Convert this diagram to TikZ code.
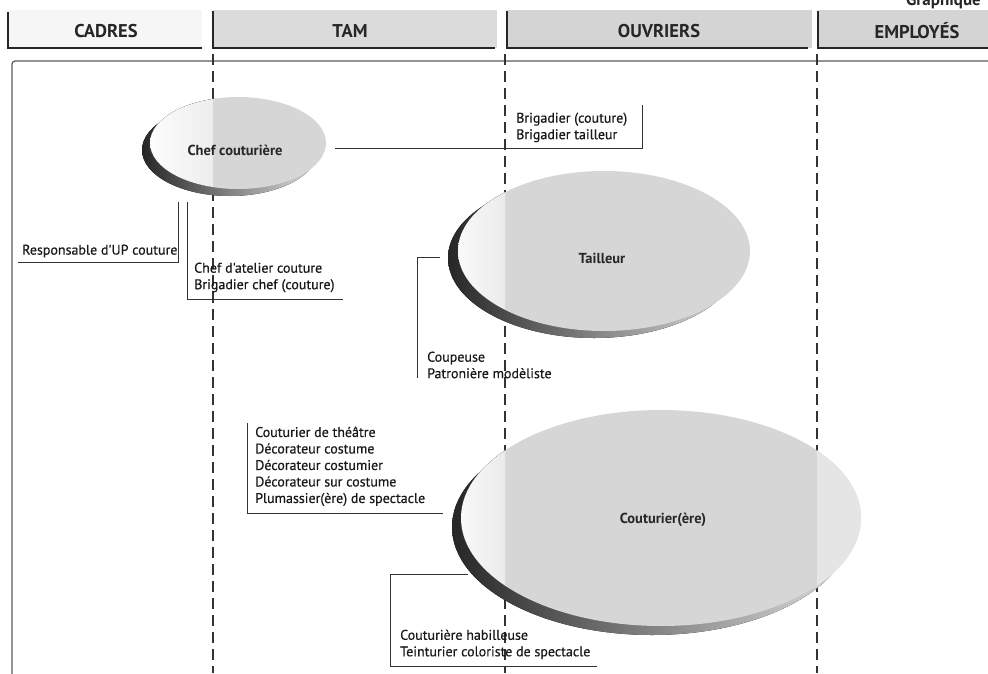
\documentclass[tikz,border=0pt]{standalone}
\usepackage{fontspec}
\setmainfont{PT Sans}
\newfontfamily\listfont{PT Sans}[FakeBold=0.5]
\usetikzlibrary{shapes.geometric}

\begin{document}
\begin{tikzpicture}[x=1pt,y=-1pt,
  lbl/.style={font=\listfont\fontsize{14}{16.5}\selectfont, align=left, inner sep=0pt, anchor=north west, text=black!90},
  head/.style={font=\fontsize{18.5}{20}\selectfont\bfseries, text=black!85, inner sep=0pt},
  tabbar/.style={line width=2.6pt, black!85},
  colsep/.style={line width=1.1pt, dash pattern=on 11pt off 6pt, black!80},
  bracket/.style={line width=1pt, black!80},
  oval/.style={ellipse, inner sep=0pt, font=\fontsize{14.5}{16}\selectfont\bfseries, text=black!85},
  shadowfill/.style={left color=black!85, right color=gray!25},
]
\useasboundingbox (0,0) rectangle (988,673);

% page title, partly outside the page
\node[head, font=\fontsize{17}{19}\selectfont\bfseries, anchor=base east] (title) at (981,5) {Graphique};

% column tabs
\fill[gray!7] (8,10) rectangle (202,48);
\fill[gray!28] (213,10) rectangle (497,48);
\fill[gray!34] (507,10) rectangle (812,48);
\fill[gray!34] (818,10) rectangle (988,48);
\draw[tabbar] (8,12) -- (8,48) -- (202,48);
\draw[tabbar] (213,11) -- (213,48) -- (495,48);
\draw[tabbar] (507,11) -- (507,48) -- (808,48);
\draw[tabbar] (818,11) -- (818,48) -- (988,48);
\node[head] (cadres) at (106,31) {CADRES};
\node[head] (tam) at (350,31) {TAM};
\node[head] (ouvriers) at (659,31) {OUVRIERS};
\node[head] (employes) at (917,31) {EMPLOYÉS};

% frame around the chart
\draw[line width=1.2pt, black!65, rounded corners=3pt] (12,690) -- (12,61) -- (995,61);

% column separators
\coordinate (s1t) at (213,54); \coordinate (s1b) at (213,673);
\coordinate (s2t) at (505,54); \coordinate (s2b) at (505,673);
\coordinate (s3t) at (817,54); \coordinate (s3b) at (817,673);
\draw[colsep] (s1t) -- (s1b);
\draw[colsep] (s2t) -- (s2b);
\draw[colsep] (s3t) -- (s3b);

% --- Chef couturière
\fill[shadowfill] (230,150) ellipse [x radius=88pt, y radius=46pt];
\begin{scope}
  \clip (238,143) ellipse [x radius=88pt, y radius=46pt];
  \fill[gray!32] (140,90) rectangle (340,200);
  \fill[left color=white, right color=gray!14] (140,90) rectangle (213,200);
\end{scope}
\node[oval, minimum width=176pt, minimum height=92pt] (chef) at (238,143) {};
\node[oval] (chefl) at (235,150) {Chef couturière};

% --- Tailleur
\fill[shadowfill] (594,258) ellipse [x radius=146pt, y radius=80pt];
\begin{scope}
  \clip (604,251) ellipse [x radius=146pt, y radius=80pt];
  \fill[gray!32] (440,160) rectangle (760,340);
  \fill[left color=white, right color=gray!16] (440,160) rectangle (505,340);
\end{scope}
\node[oval, minimum width=292pt, minimum height=160pt] (tail) at (604,251) {};
\node[oval] (taill) at (602,258) {Tailleur};

% --- Couturier(ère)
\fill[shadowfill] (652,527) ellipse [x radius=200pt, y radius=108pt];
\begin{scope}
  \clip (661,518) ellipse [x radius=200pt, y radius=108pt];
  \fill[gray!32] (440,400) rectangle (870,640);
  \fill[left color=white, right color=gray!16] (440,400) rectangle (505,640);
  \fill[gray!20] (817,400) rectangle (870,640);
\end{scope}
\node[oval, minimum width=400pt, minimum height=216pt] (cout) at (661,518) {};
\node[oval] (coutl) at (663,520) {Couturier(ère)};

% --- job lists
\node[lbl] (brig) at (516,112.5) {Brigadier (couture)\\Brigadier tailleur};
\node[lbl] (resp) at (22,244.5) {Responsable d'UP couture};
\node[lbl] (atel) at (194,262.5) {Chef d'atelier couture\\Brigadier chef (couture)};
\node[lbl] (coup) at (427,351.5) {Coupeuse\\Patronière modèliste};
\node[lbl] (theat) at (255,426.5) {Couturier de théâtre\\Décorateur costume\\Décorateur costumier\\Décorateur sur costume\\Plumassier(ère) de spectacle};
\node[lbl] (habil) at (400,629.5) {Couturière habilleuse\\Teinturier coloriste de spectacle};

% --- brackets linking the ovals to their lists
\coordinate (chefout) at (335,148);
\coordinate (brigR) at (642,148);
\coordinate (brigT) at (642,105);
\draw[bracket] (chefout) -- (brigR) -- (brigT);

\coordinate (respT) at (178,202);
\coordinate (respR) at (178,262);
\coordinate (respL) at (18,262);
\draw[bracket] (respT) -- (respR) -- (respL);

\coordinate (atelT) at (187,202);
\coordinate (atelL) at (187,299);
\coordinate (atelR) at (343,299);
\draw[bracket] (atelT) -- (atelL) -- (atelR);

\coordinate (coupR) at (440,257);
\coordinate (coupT) at (417,257);
\coordinate (coupB) at (417,378);
\draw[bracket] (coupR) -- (coupT) -- (coupB);

\coordinate (theatT) at (247,423);
\coordinate (theatB) at (247,513);
\coordinate (theatR) at (443,513);
\draw[bracket] (theatT) -- (theatB) -- (theatR);

\coordinate (habilR) at (468,574);
\coordinate (habilT) at (390,574);
\coordinate (habilB) at (390,666);
\coordinate (habilE) at (597,666);
\draw[bracket] (habilR) -- (habilT) -- (habilB) -- (habilE);
\end{tikzpicture}
\end{document}
